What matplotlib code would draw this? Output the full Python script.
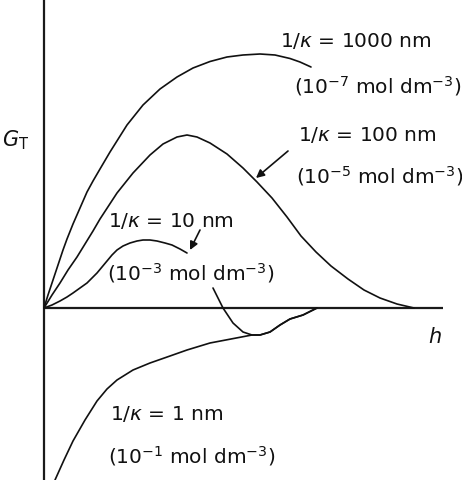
import numpy as np
import matplotlib
matplotlib.use('Agg')
import matplotlib.pyplot as plt

plt.rcParams['font.family'] = ['DejaVu Sans']
plt.rcParams['mathtext.fontset'] = 'dejavusans'

# schematic curves, (h, G_T) in arbitrary units
h_1000 = [0, 4, 9, 14, 19, 23, 29, 36, 43, 49, 56, 66, 83, 99, 116, 133, 149, 166, 183, 199,
          216, 231, 246, 256, 267]
g_1000 = [0, 13, 28, 43, 58, 69, 84, 100, 116, 127, 139, 156, 183, 203, 219, 231, 240, 246.5, 251, 253,
          254, 253, 249.5, 246, 241]

h_100 = [0, 8, 16, 24, 33, 41, 49, 56, 73, 89, 106, 119, 133, 143, 153, 166, 183, 199, 213, 228,
         243, 257, 272, 287, 304, 320, 336, 353, 370]
g_100 = [0, 13, 25, 38, 51, 64, 77, 89, 115, 135, 153, 164, 171, 173, 171, 165, 154, 140, 126, 110,
         91, 72, 56, 42, 29, 18, 10, 4, 0]

# 10 nm: broken where its label sits (nan)
h_10 = [0, 8, 16, 23, 29, 36, 43, 48, 53, 58, 63, 68, 73, 79, 86, 93, 99, 106, 113, 121, 128, 136, 143,
        np.nan, 169, 179, 189, 199, 208, 216, 226, 236, 246, 259, 269, 273]
g_10 = [0, 3, 7, 11, 15, 20, 25, 30, 35, 41, 47, 53, 58, 62, 65, 67, 68, 68, 67, 65, 63, 59, 55,
        np.nan, 20, 0, -15, -24, -27, -27, -24, -17, -11, -7, -2, 0]

h_1 = [11, 20, 29, 41, 53, 63, 73, 89, 106, 126, 143, 166, 187, 208, 216, 226, 236, 246, 259, 269, 273]
g_1 = [-172, -152, -133, -112, -93, -81, -72, -62, -55, -48, -42, -35, -31, -27, -27, -24, -17, -11,
       -7, -2, 0]

labels = [r'1/$\kappa$ = 1000 nm', r'(10$^{-7}$ mol dm$^{-3}$)',
          r'1/$\kappa$ = 100 nm', r'(10$^{-5}$ mol dm$^{-3}$)',
          r'1/$\kappa$ = 10 nm', r'(10$^{-3}$ mol dm$^{-3}$)',
          r'1/$\kappa$ = 1 nm', r'(10$^{-1}$ mol dm$^{-3}$)']
label_h = [236, 250, 254, 252, 64, 63, 66, 64]
label_g = [261, 215, 167, 125, 81, 28, -112, -155]

fig = plt.figure(figsize=(4.62, 4.80), dpi=100)
ax = fig.add_axes([0, 0, 1, 1])
ax.set_xlim(-44, 418)
ax.set_ylim(-172, 308)
ax.axis('off')

# axes of the sketch
ax.plot([0, 0], [-172, 308], color='#1a1a1a', lw=1.6, solid_capstyle='butt')
ax.plot([0, 399], [0, 0], color='#1a1a1a', lw=1.6, solid_capstyle='butt')

for hh, gg in [(h_1000, g_1000), (h_100, g_100), (h_10, g_10), (h_1, g_1)]:
    ax.plot(hh, gg, color='#111111', lw=1.2, solid_joinstyle='round', solid_capstyle='round')

for s, x, y in zip(labels, label_h, label_g):
    ax.text(x, y, s, fontsize=14.5, ha='left', va='baseline', color='#111111')

ax.text(-42, 162, r'$G_{\mathrm{T}}$', fontsize=15, ha='left', va='baseline', color='#111111')
ax.text(384, -35, r'$h$', fontsize=15, ha='left', va='baseline', color='#111111')

arrow = dict(arrowstyle='-|>', color='#111111', lw=1.2, mutation_scale=12, shrinkA=0, shrinkB=0)
ax.annotate('', xy=(212, 130), xytext=(244, 157), arrowprops=arrow)
ax.annotate('', xy=(146, 58), xytext=(156, 78), arrowprops=arrow)

fig.savefig('out.png', dpi=100)
